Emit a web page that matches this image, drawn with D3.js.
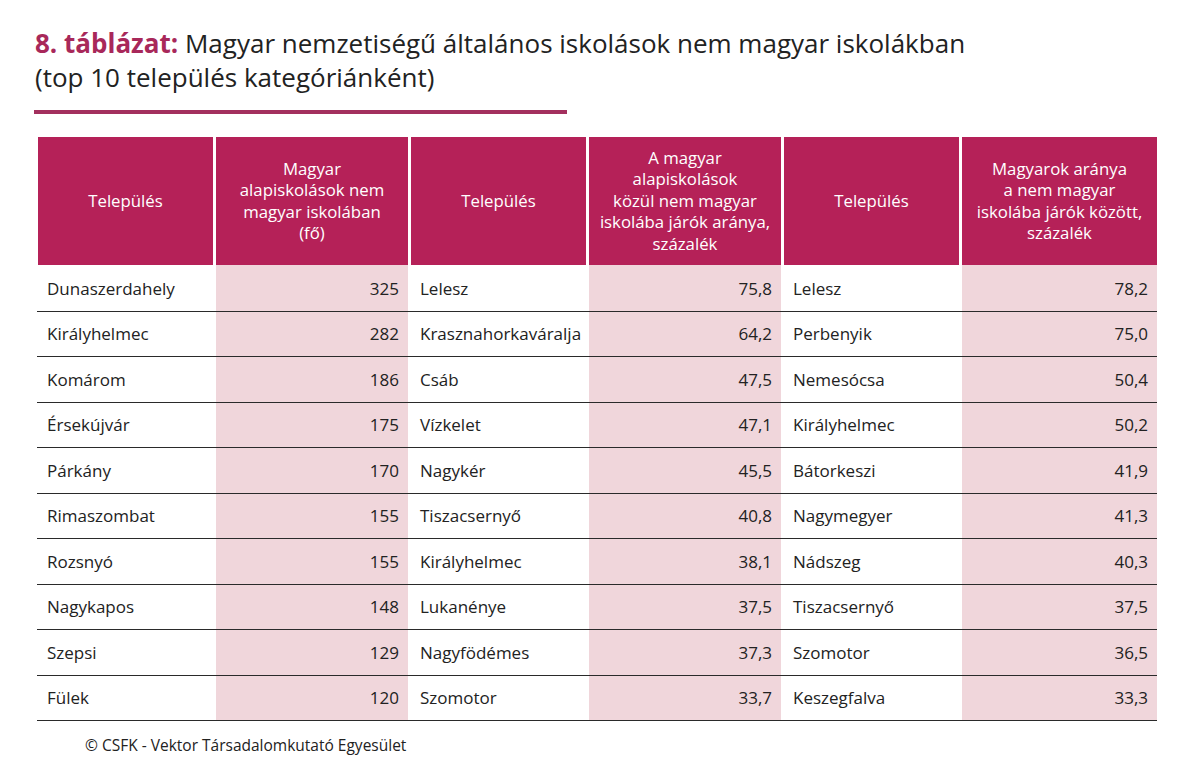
<!DOCTYPE html>
<html>
<head>
<meta charset="utf-8">
<script src="https://cdn.jsdelivr.net/npm/d3@7"></script>
<style>
  body { margin: 0; background: #fff; }
  svg { font-family: "Open Sans", "Noto Sans", sans-serif; }
</style>
</head>
<body>
<div id="chart"></div>
<script>
// Column headers
let headers = [
	["Település"],
	["Magyar", "alapiskolások nem", "magyar iskolában", "(fő)"],
	["Település"],
	["A magyar", "alapiskolások", "közül nem magyar", "iskolába járók aránya,", "százalék"],
	["Település"],
	["Magyarok aránya", "a nem magyar", "iskolába járók között,", "százalék"]
];

// Top 10 by number of pupils
let countNames = ["Dunaszerdahely", "Királyhelmec", "Komárom", "Érsekújvár", "Párkány",
	"Rimaszombat", "Rozsnyó", "Nagykapos", "Szepsi", "Fülek"];
let countValues = [325, 282, 186, 175, 170, 155, 155, 148, 129, 120];

// Top 10 by share of Hungarian pupils in non-Hungarian schools
let shareNames = ["Lelesz", "Krasznahorkaváralja", "Csáb", "Vízkelet", "Nagykér",
	"Tiszacsernyő", "Királyhelmec", "Lukanénye", "Nagyfödémes", "Szomotor"];
let shareValues = [75.8, 64.2, 47.5, 47.1, 45.5, 40.8, 38.1, 37.5, 37.3, 33.7];

// Top 10 by share of Hungarians among pupils of non-Hungarian schools
let ratioNames = ["Lelesz", "Perbenyik", "Nemesócsa", "Királyhelmec", "Bátorkeszi",
	"Nagymegyer", "Nádszeg", "Tiszacsernyő", "Szomotor", "Keszegfalva"];
let ratioValues = [78.2, 75.0, 50.4, 50.2, 41.9, 41.3, 40.3, 37.5, 36.5, 33.3];

let width = 1197, height = 759;
let magenta = "#b52158";
let pink = "#f0d6db";

let svg = d3.select("#chart").append("svg")
	.attr("width", width)
	.attr("height", height);

// Title
let title = svg.append("text")
	.attr("x", 35)
	.attr("y", 53)
	.style("font-size", "26px")
	.style("fill", "#222");
title.append("tspan")
	.style("fill", "#a8285a")
	.style("font-weight", "bold")
	.text("8. táblázat: ");
title.append("tspan")
	.text("Magyar nemzetiségű általános iskolások nem magyar iskolákban");

svg.append("text")
	.attr("x", 35)
	.attr("y", 87)
	.style("font-size", "26px")
	.style("fill", "#222")
	.text("(top 10 település kategóriánként)");

svg.append("rect")
	.attr("x", 34)
	.attr("y", 110)
	.attr("width", 533)
	.attr("height", 4)
	.attr("fill", "#a3305e");

// Table layout: [left edge, right edge] of each column
let colEdges = [[38, 213], [216, 408], [411, 586], [589, 781], [784, 959], [962, 1157]];
let columns = [
	{ names: countNames, values: countValues, fmt: d3.format("d") },
	{ names: shareNames, values: shareValues, fmt: v => v.toFixed(1).replace(".", ",") },
	{ names: ratioNames, values: ratioValues, fmt: v => v.toFixed(1).replace(".", ",") }
];

let headTop = 137, headBottom = 265, tableBottom = 720;

// Header cells
let head = svg.append("g").attr("class", "header");
headers.forEach((lines, i) => {
	let [x0, x1] = colEdges[i];
	head.append("rect")
		.attr("x", x0)
		.attr("y", headTop)
		.attr("width", x1 - x0)
		.attr("height", headBottom - headTop)
		.attr("fill", magenta);
	let lineH = 21.5;
	let cy = (headTop + headBottom) / 2 - (lines.length - 1) * lineH / 2;
	let t = head.append("text")
		.attr("text-anchor", "middle")
		.style("fill", "#fff")
		.style("font-size", "16.8px");
	lines.forEach((l, j) => {
		t.append("tspan")
			.attr("x", (x0 + x1) / 2)
			.attr("y", cy + j * lineH)
			.attr("dy", "0.35em")
			.text(l);
	});
});

// Row scale
let y = d3.scaleBand()
	.domain(d3.range(countNames.length))
	.range([headBottom, tableBottom]);

let body = svg.append("g").attr("class", "body");

// Pink background of the value columns
[1, 3, 5].forEach(i => {
	let [x0, x1] = colEdges[i];
	body.append("rect")
		.attr("x", x0)
		.attr("y", headBottom)
		.attr("width", x1 - x0)
		.attr("height", tableBottom - headBottom)
		.attr("fill", pink);
});

// Row separators
body.selectAll(".row-line")
	.data(y.domain())
	.enter().append("line")
	.attr("class", "row-line")
	.attr("x1", 37)
	.attr("x2", 1157)
	.attr("y1", d => Math.round(y(d) + y.bandwidth()) + 0.5)
	.attr("y2", d => Math.round(y(d) + y.bandwidth()) + 0.5)
	.attr("stroke", "#2a2a2a")
	.attr("stroke-width", 1.2);

// Cell texts
columns.forEach((col, c) => {
	let nameX = colEdges[c * 2][0] + 9;
	let valX = colEdges[c * 2 + 1][1] - 9;

	body.selectAll(".name-" + c)
		.data(col.names)
		.enter().append("text")
		.attr("class", "name-" + c)
		.attr("x", nameX)
		.attr("y", (d, i) => y(i) + y.bandwidth() / 2 + 1)
		.attr("dy", "0.35em")
		.style("font-size", "17px")
		.style("fill", "#222")
		.text(d => d);

	body.selectAll(".value-" + c)
		.data(col.values)
		.enter().append("text")
		.attr("class", "value-" + c)
		.attr("x", valX)
		.attr("y", (d, i) => y(i) + y.bandwidth() / 2 + 1)
		.attr("dy", "0.35em")
		.attr("text-anchor", "end")
		.style("font-size", "17px")
		.style("fill", "#222")
		.text(d => col.fmt(d));
});

// Source line
svg.append("text")
	.attr("x", 85)
	.attr("y", 751)
	.style("font-size", "15.5px")
	.style("fill", "#222")
	.text("© CSFK - Vektor Társadalomkutató Egyesület");
</script>
</body>
</html>
